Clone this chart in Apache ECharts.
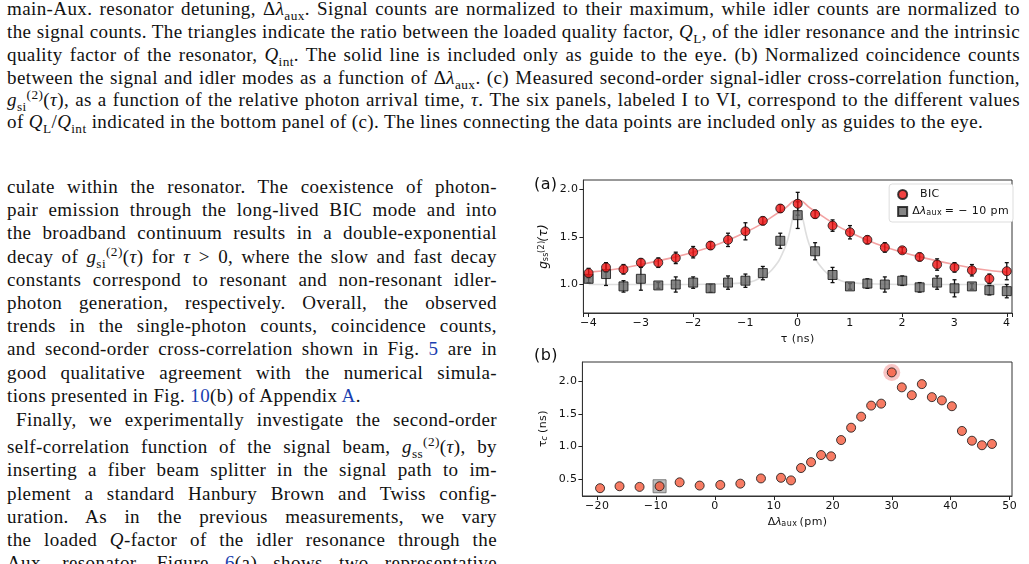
<!DOCTYPE html>
<html><head><meta charset="utf-8">
<script src="https://cdn.jsdelivr.net/npm/echarts@6/dist/echarts.min.js"></script>
<style>
body{margin:0;width:1029px;height:564px;overflow:hidden;background:#fff;position:relative;font-family:"Liberation Serif",serif;font-size:19px;letter-spacing:0.4px;color:#111}
.l{position:absolute;white-space:nowrap;text-align:justify;text-align-last:justify;line-height:20px}
.t{left:7px;width:1013px}
.c{left:7px;width:490px}
sub,sup{font-size:70%;line-height:0}
.lab{position:absolute;font-family:"DejaVu Sans",sans-serif;font-size:16px}
#ca{position:absolute;left:530px;top:170px;width:499px;height:180px}
#cb{position:absolute;left:530px;top:352px;width:499px;height:190px}
a{color:#1a3fb0;text-decoration:none}
</style></head><body>
<div class="l t" style="top:-1px">main-Aux. resonator detuning, Δ<i>λ</i><sub>aux</sub>. Signal counts are normalized to their maximum, while idler counts are normalized to</div>
<div class="l t" style="top:22px">the signal counts. The triangles indicate the ratio between the loaded quality factor, <i>Q</i><sub>L</sub>, of the idler resonance and the intrinsic</div>
<div class="l t" style="top:45px">quality factor of the resonator, <i>Q</i><sub>int</sub>. The solid line is included only as guide to the eye. (b) Normalized coincidence counts</div>
<div class="l t" style="top:68px">between the signal and idler modes as a function of Δ<i>λ</i><sub>aux</sub>. (c) Measured second-order signal-idler cross-correlation function,</div>
<div class="l t" style="top:90px"><i>g</i><sub>si</sub><sup>(2)</sup>(<i>τ</i>), as a function of the relative photon arrival time, <i>τ</i>. The six panels, labeled I to VI, correspond to the different values</div>
<div class="l" style="top:112px;left:7px">of <i>Q</i><sub>L</sub>/<i>Q</i><sub>int</sub> indicated in the bottom panel of (c). The lines connecting the data points are included only as guides to the eye.</div>

<div class="l c" style="top:177px">culate within the resonator. The coexistence of photon-</div>
<div class="l c" style="top:200px">pair emission through the long-lived BIC mode and into</div>
<div class="l c" style="top:223px">the broadband continuum results in a double-exponential</div>
<div class="l c" style="top:247px">decay of <i>g</i><sub>si</sub><sup>(2)</sup>(<i>τ</i>) for <i>τ</i> &gt; 0, where the slow and fast decay</div>
<div class="l c" style="top:270px">constants correspond to resonant and non-resonant idler-</div>
<div class="l c" style="top:293px">photon generation, respectively. Overall, the observed</div>
<div class="l c" style="top:316px">trends in the single-photon counts, coincidence counts,</div>
<div class="l c" style="top:339px">and second-order cross-correlation shown in Fig. <a>5</a> are in</div>
<div class="l c" style="top:363px">good qualitative agreement with the numerical simula-</div>
<div class="l" style="top:386px;left:7px">tions presented in Fig. <a>10</a>(b) of Appendix <a>A</a>.</div>
<div class="l" style="top:410px;left:16px;width:481px;text-align:justify;text-align-last:justify">Finally, we experimentally investigate the second-order</div>
<div class="l c" style="top:437px">self-correlation function of the signal beam, <i>g</i><sub>ss</sub><sup>(2)</sup>(<i>τ</i>), by</div>
<div class="l c" style="top:460px">inserting a fiber beam splitter in the signal path to im-</div>
<div class="l c" style="top:484px">plement a standard Hanbury Brown and Twiss config-</div>
<div class="l c" style="top:507px">uration. As in the previous measurements, we vary</div>
<div class="l c" style="top:530px">the loaded <i>Q</i>-factor of the idler resonance through the</div>
<div class="l c" style="top:553px">Aux. resonator. Figure <a>6</a>(a) shows two representative</div>

<div id="ca"></div><div id="cb"></div>
<div class="lab" style="left:534px;top:174px">(a)</div>
<div class="lab" style="left:534px;top:345px">(b)</div>
<script>
// panel (a): g_ss^(2)(tau)
const tau = [-4,-3.667,-3.333,-3,-2.667,-2.333,-2,-1.667,-1.333,-1,-0.667,-0.333,0,0.333,0.667,1,1.333,1.667,2,2.333,2.667,3,3.333,3.667,4];
const bicVals = [1.12,1.18,1.16,1.23,1.23,1.28,1.34,1.41,1.47,1.56,1.67,1.80,1.85,1.74,1.62,1.55,1.47,1.39,1.36,1.29,1.21,1.18,1.15,1.06,1.14];
const bicErr = [0.05,0.05,0.05,0.04,0.05,0.06,0.06,0.04,0.07,0.09,0.04,0.04,0.12,0.04,0.06,0.07,0.04,0.05,0.03,0.04,0.06,0.05,0.06,0.05,0.09];
const auxVals = [1.06,1.11,0.98,1.06,0.99,1.00,1.02,0.96,1.02,1.04,1.12,1.46,1.73,1.35,1.10,0.98,1.01,1.00,1.04,0.97,1.02,0.96,0.98,0.94,0.93];
const auxErr = [0.04,0.12,0.06,0.12,0.03,0.08,0.06,0.04,0.07,0.07,0.07,0.08,0.14,0.09,0.08,0.03,0.05,0.08,0.05,0.05,0.07,0.09,0.03,0.05,0.07];
const guideT = [-4,-3.5,-3,-2.5,-2,-1.5,-1,-0.75,-0.5,-0.25,0,0.25,0.5,0.75,1,1.5,2,2.5,3,3.5,4];
const guideBic = [1.13,1.16,1.21,1.27,1.34,1.43,1.55,1.62,1.71,1.80,1.89,1.80,1.71,1.62,1.55,1.43,1.34,1.27,1.21,1.16,1.13];
const guideAux = [1.0,1.0,1.0,1.0,1.0,1.005,1.02,1.06,1.15,1.38,1.78,1.38,1.15,1.06,1.02,1.005,1.0,1.0,1.0,1.0,1.0];
const ticksA = [1.0,1.5,2.0];
// panel (b): tau_c vs detuning
const detuning = [-19.5,-16.2,-12.8,-9.4,-6,-2.6,0.9,4.3,7.8,11.2,12.9,14.6,16.3,18,19.7,21.4,23.1,24.8,26.5,28.2,30,31.7,33.4,35.1,36.8,38.5,40.2,41.9,43.6,45.3,47];
const tauC = [0.36,0.39,0.38,0.39,0.45,0.40,0.41,0.43,0.51,0.52,0.48,0.67,0.76,0.87,0.85,1.10,1.29,1.46,1.63,1.66,2.14,1.91,1.79,1.96,1.76,1.71,1.62,1.24,1.09,1.02,1.04];
const markBic = [[30,2.14]];
const markAux = [[-9.4,0.39]];
const ticksB = [0.5,1.0,1.5,2.0];

const SANS = '"DejaVu Sans",sans-serif';
const minus = v => String(v).replace('-', '\u2212');
function zip(a,b){return a.map((x,i)=>[x,b[i]]);}
function errSeries(xs, ys, es){
  return {type:'custom', z:3, data: xs.map((x,i)=>[x,ys[i]-es[i],ys[i]+es[i]]),
    renderItem:(p,api)=>{
      const lo=api.coord([api.value(0),api.value(1)]), hi=api.coord([api.value(0),api.value(2)]);
      const st={stroke:'#111',lineWidth:1.3};
      return {type:'group',children:[
        {type:'line',shape:{x1:lo[0],y1:lo[1],x2:hi[0],y2:hi[1]},style:st},
        {type:'line',shape:{x1:lo[0]-2,y1:lo[1],x2:lo[0]+2,y2:lo[1]},style:st},
        {type:'line',shape:{x1:hi[0]-2,y1:hi[1],x2:hi[0]+2,y2:hi[1]},style:st}]};
    }};
}
const lbl = {show:true,color:'#111',fontFamily:SANS,fontSize:11,margin:5};
const tick = {show:true,inside:false,length:4,lineStyle:{color:'#222'}};
const line = {show:true,onZero:false,lineStyle:{color:'#333',width:1}};

const ca = echarts.init(document.getElementById('ca'));
ca.setOption({animation:false,
  grid:{left:51,right:17,top:10,height:133,show:true,borderColor:'#333',borderWidth:1},
  xAxis:{type:'value',min:-4.1,max:4.1,name:'τ (ns)',nameLocation:'middle',nameGap:20,
    nameTextStyle:{fontFamily:SANS,fontSize:11,color:'#111'},axisLine:line,axisTick:tick,splitLine:{show:false},
    customValues:[-4,-3,-2,-1,0,1,2,3,4],
    axisLabel:Object.assign({},lbl,{customValues:[-4,-3,-2,-1,0,1,2,3,4],formatter:minus})},
  yAxis:{type:'value',min:0.7,max:2.1,name:'{g|g}{s|ss}{p|(2)}{g|(τ)}',nameLocation:'middle',nameGap:30,
    nameTextStyle:{rich:{g:{fontFamily:SANS,fontSize:12,fontStyle:'italic',color:'#111'},s:{fontFamily:SANS,fontSize:8,verticalAlign:'bottom',color:'#111'},p:{fontFamily:SANS,fontSize:8,verticalAlign:'top',color:'#111'}}},
    axisLine:line,splitLine:{show:false},
    axisTick:Object.assign({},tick,{customValues:ticksA}),
    axisLabel:Object.assign({},lbl,{customValues:ticksA,formatter:v=>v.toFixed(1)})},
  legend:{right:16,top:14,orient:'vertical',itemWidth:9,itemHeight:9,itemGap:6,padding:[5,8],
    borderColor:'#ddd',borderWidth:1,borderRadius:3,backgroundColor:'#fff',
    textStyle:{fontFamily:SANS,fontSize:11,color:'#111',rich:{s:{fontSize:8,verticalAlign:'bottom'},i:{fontStyle:'italic',fontSize:11}}},
    formatter:n=>n==='aux'?'Δ{i|λ}{s|aux} = \u2212 10 pm':'  BIC',
    data:[{name:'BIC',icon:'circle'},{name:'aux',icon:'rect'}]},
  series:[
    {type:'line',data:zip(guideT,guideBic),smooth:true,symbol:'none',lineStyle:{color:'rgba(235,100,100,0.6)',width:1.6},z:1,silent:true},
    {type:'line',data:zip(guideT,guideAux),smooth:true,symbol:'none',lineStyle:{color:'rgba(200,200,200,0.6)',width:1.6},z:1,silent:true},
    errSeries(tau,bicVals,bicErr), errSeries(tau,auxVals,auxErr),
    {name:'aux',type:'scatter',data:zip(tau,auxVals),symbol:'rect',symbolSize:9,itemStyle:{color:'#666',borderColor:'#111',borderWidth:1},z:4},
    {name:'BIC',type:'scatter',data:zip(tau,bicVals),symbol:'circle',symbolSize:9,itemStyle:{color:'#ee1111',borderColor:'#111',borderWidth:1},z:5}
  ]});

const xb = [-20,-10,0,10,20,30,40,50];
const cb = echarts.init(document.getElementById('cb'));
cb.setOption({animation:false,
  grid:{left:51,right:17,top:10,height:134,show:true,borderColor:'#333',borderWidth:1},
  xAxis:{type:'value',min:-22.5,max:50.4,name:'{d|Δ}{i|λ}{s|aux}{d| (pm)}',nameLocation:'middle',nameGap:20,
    nameTextStyle:{rich:{d:{fontFamily:SANS,fontSize:11,color:'#111'},i:{fontFamily:SANS,fontSize:11,fontStyle:'italic',color:'#111'},s:{fontFamily:SANS,fontSize:8,verticalAlign:'bottom',color:'#111'}}},
    axisLine:line,splitLine:{show:false},
    axisTick:Object.assign({},tick,{customValues:xb}),
    axisLabel:Object.assign({},lbl,{customValues:xb,formatter:minus})},
  yAxis:{type:'value',min:0.24,max:2.3,name:'{d|τ}{s|c}{d| (ns)}',nameLocation:'middle',nameGap:30,
    nameTextStyle:{rich:{d:{fontFamily:SANS,fontSize:11,color:'#111'},s:{fontFamily:SANS,fontSize:8,fontStyle:'italic',verticalAlign:'bottom',color:'#111'}}},
    axisLine:line,splitLine:{show:false},
    axisTick:Object.assign({},tick,{customValues:ticksB}),
    axisLabel:Object.assign({},lbl,{customValues:ticksB,formatter:v=>v.toFixed(1)})},
  series:[
    {type:'scatter',data:markBic,symbolSize:17,itemStyle:{color:'rgba(240,120,120,0.55)'},z:1},
    {type:'scatter',data:markAux,symbol:'rect',symbolSize:13,itemStyle:{color:'#aaa',borderColor:'#666',borderWidth:1},z:1},
    {type:'scatter',data:zip(detuning,tauC),symbolSize:9,itemStyle:{color:'#f55a3c',borderColor:'#111',borderWidth:1},z:3}
  ]});
</script>
</body></html>
